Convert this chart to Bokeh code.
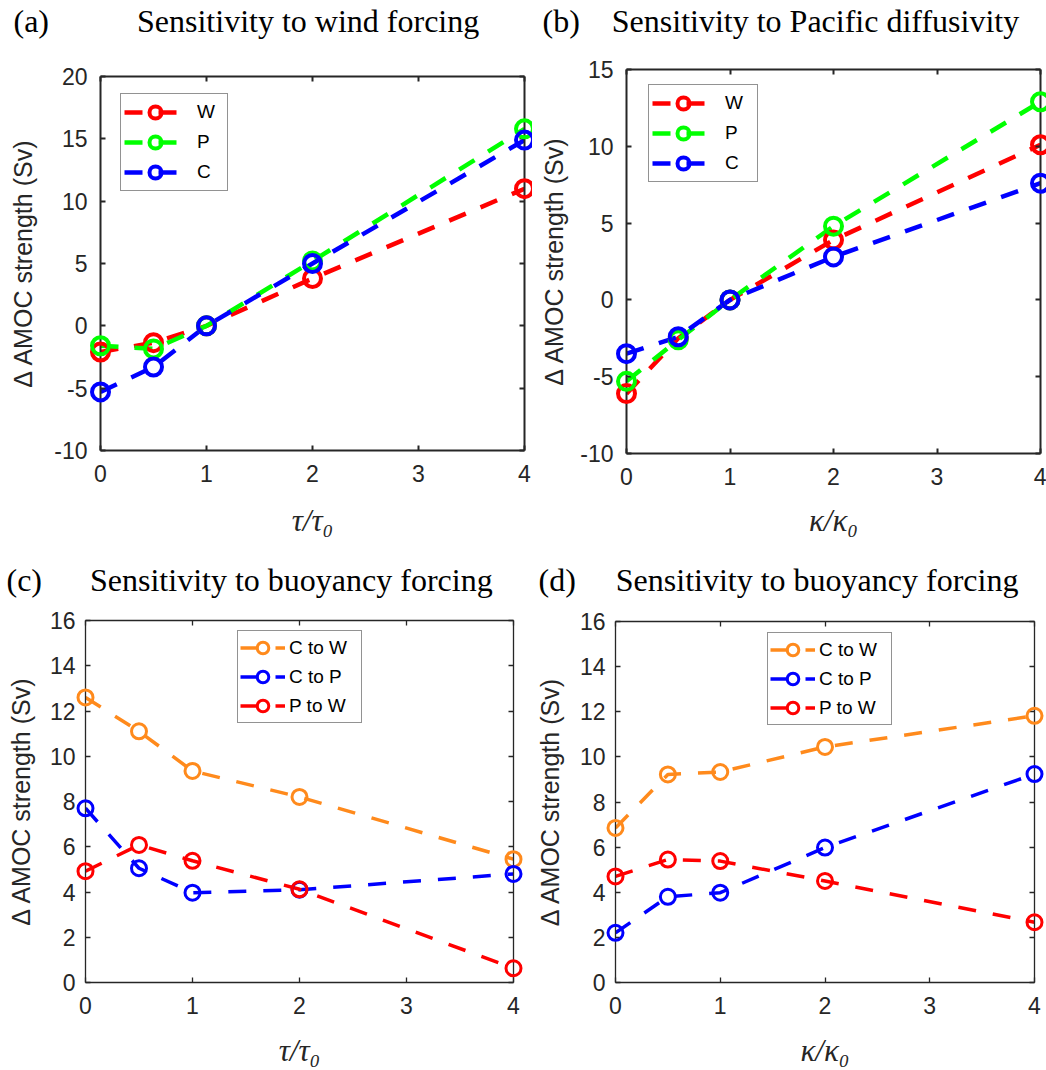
from bokeh.plotting import figure
from bokeh.layouts import column, row
from bokeh.models import LinearAxis, FixedTicker, Legend, LegendItem, Range1d
from bokeh.embed import file_html
from bokeh.resources import INLINE

# ---------------- data ----------------
x_vals = [0, 0.5, 1, 2, 4]
x_ticks = [0, 1, 2, 3, 4]

# (a) sensitivity to wind forcing
a_W = [-2.1, -1.35, 0, 3.8, 11.0]
a_P = [-1.6, -1.85, 0, 5.2, 15.8]
a_C = [-5.3, -3.3, 0, 5.0, 14.9]
a_yticks = [-10, -5, 0, 5, 10, 15, 20]

# (b) sensitivity to Pacific diffusivity
b_W = [-6.1, -2.5, 0, 3.9, 10.1]
b_P = [-5.3, -2.6, 0, 4.8, 12.9]
b_C = [-3.5, -2.4, 0, 2.8, 7.6]
b_yticks = [-10, -5, 0, 5, 10, 15]

# (c) sensitivity to buoyancy forcing (vs tau)
c_CW = [12.6, 11.1, 9.35, 8.2, 5.45]
c_CP = [7.7, 5.05, 3.97, 4.1, 4.8]
c_PW = [4.92, 6.08, 5.38, 4.12, 0.63]

# (d) sensitivity to buoyancy forcing (vs kappa)
d_CW = [6.85, 9.22, 9.33, 10.44, 11.82]
d_CP = [2.2, 3.8, 3.98, 5.98, 9.24]
d_PW = [4.7, 5.45, 5.38, 4.5, 2.67]
cd_yticks = [0, 2, 4, 6, 8, 10, 12, 14, 16]

names_ab = ["W", "P", "C"]
names_cd = ["C to W", "C to P", "P to W"]
cols_ab = ["#ff0000", "#00ff00", "#0000ff"]
cols_cd = ["#ff8a1c", "#0000ff", "#ff0000"]

titles = ["Sensitivity to wind forcing", "Sensitivity to Pacific diffusivity",
          "Sensitivity to buoyancy forcing", "Sensitivity to buoyancy forcing"]
tags = ["(a)", "(b)", "(c)", "(d)"]
xlabels = ["τ/τ₀", "κ/κ₀", "τ/τ₀", "κ/κ₀"]
ylabel = "Δ AMOC strength (Sv)"

AX = "#262626"
SANS = "Liberation Sans"
SERIF = "Liberation Serif"
NB = "\u00a0"


def style_axis(ax, alw, size, standoff):
    ax.axis_line_color = AX
    ax.axis_line_width = alw
    ax.major_tick_line_color = AX
    ax.major_tick_line_width = alw
    ax.major_tick_in = 5
    ax.major_tick_out = 0
    ax.minor_tick_line_color = None
    ax.major_label_text_font = SANS
    ax.major_label_text_font_size = size
    ax.major_label_text_color = AX
    ax.major_label_standoff = standoff


def panel(idx, w, h, bl, br, bt, bb, y0, y1, yticks, series, cols, names,
          lw, ms, mlw, dash, leg_xy, glyph_w, glyph_h, pad, lab_w, lab_standoff,
          alw, ylab_standoff, ytick_standoff, n_mid, title_offset, spacer,
          xlab_standoff):
    p = figure(width=w, height=h, output_backend="svg", toolbar_location=None,
               x_range=Range1d(0, 4), y_range=Range1d(y0, y1),
               min_border_left=bl, min_border_right=br,
               min_border_top=bt, min_border_bottom=bb,
               title=tags[idx] + NB * n_mid + titles[idx])
    p.title.align = "left"
    p.title.offset = title_offset
    p.title.standoff = 0
    p.title.vertical_align = "bottom"
    p.title.text_font = SERIF
    p.title.text_font_size = "32px"
    p.title.text_font_style = "normal"
    p.title.text_color = "black"

    p.outline_line_color = None
    p.xgrid.visible = False
    p.ygrid.visible = False
    p.background_fill_color = "white"
    p.border_fill_color = "white"

    p.xaxis.ticker = FixedTicker(ticks=x_ticks)
    p.yaxis.ticker = FixedTicker(ticks=yticks)
    p.yaxis.major_label_overrides = {t: str(t) for t in yticks}
    style_axis(p.xaxis[0], alw, "23px", 14)
    style_axis(p.yaxis[0], alw, "23px", ytick_standoff)
    p.yaxis.axis_label = ylabel
    p.yaxis.axis_label_text_font = SANS
    p.yaxis.axis_label_text_font_size = "25px"
    p.yaxis.axis_label_text_font_style = "normal"
    p.yaxis.axis_label_text_color = AX
    p.yaxis.axis_label_standoff = ylab_standoff

    p.xaxis.axis_label = xlabels[idx]
    p.xaxis.axis_label_text_font = SERIF
    p.xaxis.axis_label_text_font_size = "31px"
    p.xaxis.axis_label_text_font_style = "italic"
    p.xaxis.axis_label_text_color = AX
    p.xaxis.axis_label_standoff = xlab_standoff

    top = LinearAxis(ticker=FixedTicker(ticks=x_ticks),
                     major_label_overrides={t: "" for t in x_ticks})
    right = LinearAxis(ticker=FixedTicker(ticks=yticks),
                       major_label_overrides={t: "" for t in yticks})
    style_axis(top, alw, "1px", 0)
    style_axis(right, alw, "1px", 0)
    # blank, tiny label on the mirrored top axis: keeps the title clear of the frame
    top.axis_label = NB
    top.axis_label_text_font_size = "1px"
    top.axis_label_standoff = spacer
    p.add_layout(top, "above")
    p.add_layout(right, "right")

    items = []
    for ys, c, n in zip(series, cols, names):
        lr = p.line(x_vals, ys, line_color=c, line_width=lw, line_dash=dash)
        sr = p.scatter(x_vals, ys, marker="circle", size=ms, line_color=c,
                       line_width=mlw, fill_color=None, level="overlay")
        items.append(LegendItem(label=n, renderers=[lr, sr]))

    leg = Legend(items=items, location=leg_xy, orientation="vertical",
                 glyph_width=glyph_w, glyph_height=glyph_h, padding=pad,
                 spacing=0, margin=0, label_width=lab_w, label_standoff=lab_standoff,
                 label_text_font=SANS, label_text_font_size="19px",
                 label_text_color="black", label_text_baseline="middle",
                 border_line_color=AX, border_line_width=1,
                 background_fill_color="white", background_fill_alpha=1.0)
    p.add_layout(leg)
    return p


pa = panel(0, 532, 540, 100, 8, 76, 89, -10, 20, a_yticks, [a_W, a_P, a_C], cols_ab, names_ab,
           4.5, 17, 4, "18 16", (20, 259), 62, 30, 3, 27, 11,
           2, 14, 13, 11, -87, 34, 18)

pb = panel(1, 514, 540, 94, 6, 69, 84, -10, 15, b_yticks, [b_W, b_P, b_C], cols_ab, names_ab,
           4.5, 17, 4, "18 16", (22, 271), 62, 30, 3, 29, 11,
           2, 9, 13, 4, -84, 27, 15)

pc = panel(2, 532, 530, 85, 19, 80, 87, 0, 16, cd_yticks, [c_CW, c_CP, c_PW], cols_cd, names_cd,
           3.5, 15, 3, "18 17", (152, 259), 45, 29, 2, 70, 4,
           1.3, 12, 10, 6, -79, 19, 16)

pd_ = panel(3, 514, 530, 77, 12, 81, 87, 0, 16, cd_yticks, [d_CW, d_CP, d_PW], cols_cd, names_cd,
            3.5, 15, 3, "18 17", (152, 257), 45, 29, 2, 70, 4,
            1.3, 13, 10, 5, -77, 20, 16)

layout = column(row(column(pa), column(pb), spacing=0),
                row(column(pc), column(pd_), spacing=0), spacing=0)

open("out.html", "w").write(file_html(layout, INLINE))
